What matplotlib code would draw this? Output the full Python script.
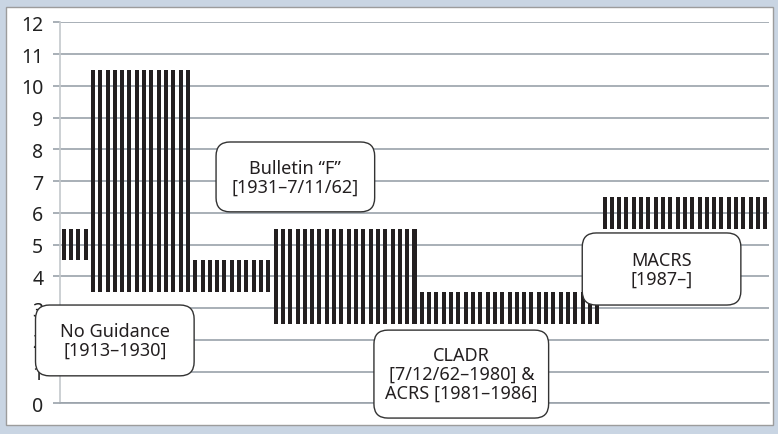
import numpy as np
import matplotlib
matplotlib.use('Agg')
from matplotlib import pyplot as plt
from matplotlib.patches import FancyBboxPatch, Rectangle

plt.rcParams['font.family'] = ['Noto Sans', 'DejaVu Sans']

# periods of the chart: first year, last year, low and high of the bars
seg_start = [1913, 1917, 1931, 1942, 1962, 1987]
seg_end = [1916, 1930, 1941, 1961, 1986, 2009]
seg_low = [4.5, 3.5, 3.5, 2.5, 2.5, 5.5]
seg_high = [5.5, 10.5, 4.5, 5.5, 3.5, 6.5]

labels = ['No Guidance\n[1913\u20131930]',
          'Bulletin \u201cF\u201d\n[1931\u20137/11/62]',
          'CLADR\n[7/12/62\u20131980] &\nACRS [1981\u20131986]',
          'MACRS\n[1987\u2013]']
label_x = [1920.0, 1944.7, 1967.4, 1994.8]
label_y = [1.98, 7.13, 0.92, 4.23]
box_w = [21.7, 21.7, 23.9, 21.7]      # in years
box_h = [2.23, 2.2, 2.77, 2.27]      # in y units

years = np.concatenate([np.arange(s, e + 1) for s, e in zip(seg_start, seg_end)])
n_per = [e - s + 1 for s, e in zip(seg_start, seg_end)]
lows = np.repeat(seg_low, n_per)
highs = np.repeat(seg_high, n_per)

bar_color = '#231f20'
grid_color = '#9aa2aa'

fig = plt.figure(figsize=(7.78, 4.35), dpi=100)
fig.patch.set_facecolor('#c9d5e3')
fig.patches.append(Rectangle((6.5 / 778, 9 / 435), 766.5 / 778, 418.5 / 435,
                             transform=fig.transFigure, facecolor='white',
                             edgecolor='#9c9c9c', linewidth=1.0, zorder=-5))

ax = fig.add_axes([60 / 778, 30.7 / 435, 709 / 778, 381 / 435])
ax.set_zorder(2)
ax.set_facecolor('none')
ax.bar(years, highs - lows, bottom=lows, width=0.55, color=bar_color, zorder=2)

ax.set_xlim(years[0] - 0.5, years[-1] + 0.5)
ax.set_ylim(0, 12)
ax.set_yticks(range(0, 13))
ax.set_xticks([])
ax.set_axisbelow(True)
ax.grid(axis='y', color=grid_color, linewidth=1.2)
for s in ['top', 'right']:
    ax.spines[s].set_visible(False)
ax.spines['bottom'].set_color(grid_color)
ax.spines['bottom'].set_linewidth(1.2)
ax.spines['left'].set_color('#c4c8cc')
ax.spines['left'].set_linewidth(1.2)
ax.tick_params(axis='y', length=5, width=1.2, color=grid_color, pad=7,
               labelsize=14, labelcolor='#222222')

# keep the rounded corners round although x and y units differ
px_x = 709 / (years[-1] - years[0] + 1)
px_y = 381 / 12
aspect = px_x / px_y
for txt, x, y, w, h in zip(labels, label_x, label_y, box_w, box_h):
    box = FancyBboxPatch((x - w / 2, y - h / 2), w, h,
                         boxstyle='round,pad=0,rounding_size=%f' % (14 / px_x),
                         mutation_aspect=aspect, facecolor='white',
                         edgecolor='#333333', linewidth=1.0, zorder=5,
                         clip_on=False)
    ax.add_patch(box)
    ax.text(x, y, txt, ha='center', va='center', multialignment='center',
            fontsize=13, color='#231f20', linespacing=1.05, zorder=6,
            clip_on=False)

plt.savefig('out.png', dpi=100, facecolor=fig.get_facecolor())
